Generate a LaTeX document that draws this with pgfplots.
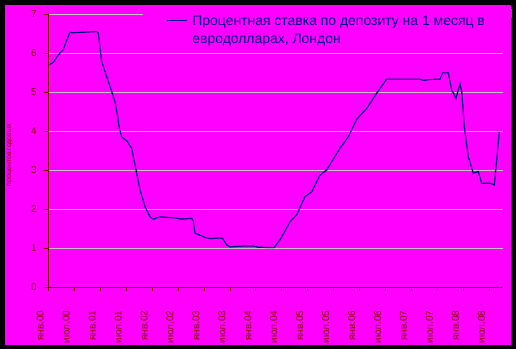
\documentclass[border=0pt]{standalone}
\usepackage{fontspec}
\setmainfont{Liberation Sans}
\usepackage{pgfplots}
\pgfplotsset{compat=1.18}
\definecolor{mag}{HTML}{FF00FF}
\definecolor{navyc}{HTML}{000080}
\definecolor{maroonc}{HTML}{800000}
\definecolor{gridc}{HTML}{C0C0C0}
\begin{document}
\begin{tikzpicture}[x=1bp,y=1bp]
\fill[black] (0,0) rectangle (516,349);
\fill[mag] (5,4) rectangle (511,344);
\begin{axis}[
  at={(48.3bp,62bp)}, anchor=south west,
  scale only axis, width=454.4bp, height=273bp,
  xmin=0, xmax=105.09, ymin=0, ymax=7,
  axis x line*=bottom, axis y line*=left,
  axis line style={maroonc, line width=0.8bp},
  every tick/.style={maroonc, line width=0.8bp},
  tick align=outside, major tick length=4bp,
  xtick={0,6,...,102},
  xticklabels={янв.00,июл.00,янв.01,июл.01,янв.02,июл.02,янв.03,июл.03,янв.04,июл.04,янв.05,июл.05,янв.06,июл.06,янв.07,июл.07,янв.08,июл.08},
  ytick={0,1,...,7},
  ymajorgrids, grid style={gridc, line width=0.8bp},
  /pgf/number format/assume math mode=true,
  tick label style={font=\fontsize{10}{12}\selectfont, text=maroonc},
  xticklabel style={xshift=-8bp, yshift=-16bp, rotate=90, anchor=east},
  yticklabel style={xshift=-4bp},
  ylabel={процентов годовых},
  ylabel style={at={(rel axis cs:-0.0843,0.4835)}, anchor=center, rotate=0, font=\fontsize{7}{8}\selectfont, text=maroonc},
  clip=false,
  legend style={at={(rel axis cs:0.2150,1.008)}, anchor=north west, draw=none, fill=none,
    font=\fontsize{14}{18}\selectfont, text=navyc, cells={align=left}, inner xsep=20bp, column sep=3bp},
  legend cell align=left,
  legend image code/.code={\draw[#1] (0bp,10bp) -- (20bp,10bp);},
]
\fill[mag] (rel axis cs:0.2084,0.985) rectangle (rel axis cs:1.02,1.02);
\addplot[navyc, line width=1.2bp] coordinates {
(0.39,5.71) (1.16,5.76) (2.31,5.95) (3.47,6.09) (4.26,6.33) (5.02,6.53) (5.78,6.52)
(11.19,6.55) (11.56,6.51) (12.12,5.99) (12.35,5.78) (13.51,5.39) (14.66,5.01)
(15.43,4.75) (16.05,4.37) (16.42,4.07) (16.98,3.85) (18.27,3.73) (19.29,3.56)
(19.82,3.26) (20.44,2.92) (21.21,2.49) (22.37,2.06) (23.52,1.80) (24.28,1.74)
(25.83,1.80) (29.30,1.77) (30.85,1.74) (33.16,1.76) (33.53,1.70) (33.93,1.38)
(35.08,1.33) (36.24,1.27) (37.40,1.24) (39.71,1.26) (40.33,1.24) (41.26,1.08)
(42.02,1.03) (45.10,1.05) (47.41,1.05) (48.57,1.02) (52.20,1.01) (53.59,1.21)
(55.90,1.67) (57.45,1.85) (59.37,2.32) (60.92,2.44) (62.84,2.87) (64.39,3.00)
(67.46,3.56) (69.38,3.85) (71.32,4.30) (73.64,4.58) (75.95,4.97) (78.26,5.33)
(85.96,5.33) (86.72,5.30) (88.27,5.32) (90.58,5.33) (91.21,5.49) (92.51,5.49)
(93.29,5.05) (94.29,4.84) (95.21,5.21) (95.61,5.01) (96.21,4.11) (97.13,3.34)
(98.29,2.92) (99.45,2.96) (100.23,2.66) (102.15,2.66) (103.15,2.62) (103.70,3.26)
(104.30,3.98)
};
\addlegendentry{Процентная ставка по депозиту на 1 месяц в\\евродолларах, Лондон}
\end{axis}
\pgfresetboundingbox
\useasboundingbox (0,0) rectangle (516,349);
\end{tikzpicture}
\end{document}
